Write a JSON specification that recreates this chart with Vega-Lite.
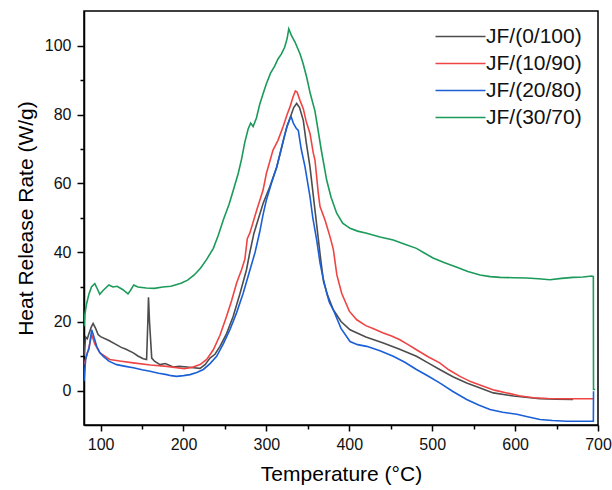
{
  "$schema": "https://vega.github.io/schema/vega-lite/v6.json",
  "width": 514,
  "height": 414,
  "autosize": {"type": "none"},
  "padding": {"left": 84, "top": 11, "right": 14, "bottom": 65},
  "background": "white",
  "config": {
    "font": "Liberation Sans",
    "view": {"stroke": "black", "strokeWidth": 1.5},
    "axis": {
      "domainColor": "black", "domainWidth": 1.5, "tickColor": "black", "tickWidth": 1.5,
      "labelFont": "Liberation Sans", "labelFontSize": 16, "labelColor": "#111",
      "titleFont": "Liberation Sans", "titleFontSize": 21, "titleFontWeight": "normal", "titleColor": "black",
      "grid": false
    }
  },
  "datasets": {
    "hrr": [
      {"s":"JF/(0/100)","T":80,"v":10},{"s":"JF/(0/100)","T":82,"v":15.5},{"s":"JF/(0/100)","T":84,"v":15},{"s":"JF/(0/100)","T":86,"v":16.5},{"s":"JF/(0/100)","T":89,"v":18.5},{"s":"JF/(0/100)","T":91,"v":19.4},{"s":"JF/(0/100)","T":94,"v":18},{"s":"JF/(0/100)","T":97,"v":16.2},{"s":"JF/(0/100)","T":100,"v":15.6},{"s":"JF/(0/100)","T":110,"v":14.5},{"s":"JF/(0/100)","T":119,"v":13.3},{"s":"JF/(0/100)","T":125,"v":12.5},{"s":"JF/(0/100)","T":130,"v":12},{"s":"JF/(0/100)","T":139.5,"v":10.9},{"s":"JF/(0/100)","T":145,"v":10},{"s":"JF/(0/100)","T":151.5,"v":9.2},{"s":"JF/(0/100)","T":155.5,"v":9},{"s":"JF/(0/100)","T":157,"v":20},{"s":"JF/(0/100)","T":157.8,"v":27},{"s":"JF/(0/100)","T":159,"v":20},{"s":"JF/(0/100)","T":161.7,"v":9.4},{"s":"JF/(0/100)","T":165,"v":8.5},{"s":"JF/(0/100)","T":171.7,"v":7.5},{"s":"JF/(0/100)","T":178,"v":7.8},{"s":"JF/(0/100)","T":187.7,"v":6.8},{"s":"JF/(0/100)","T":195,"v":7},{"s":"JF/(0/100)","T":204,"v":6.8},{"s":"JF/(0/100)","T":212,"v":6.6},{"s":"JF/(0/100)","T":220,"v":6.4},{"s":"JF/(0/100)","T":226,"v":7.5},{"s":"JF/(0/100)","T":232,"v":9.4},{"s":"JF/(0/100)","T":238,"v":10.5},{"s":"JF/(0/100)","T":244,"v":12.8},{"s":"JF/(0/100)","T":252,"v":16.5},{"s":"JF/(0/100)","T":260,"v":21.5},{"s":"JF/(0/100)","T":268,"v":28},{"s":"JF/(0/100)","T":276,"v":35},{"s":"JF/(0/100)","T":280,"v":40},{"s":"JF/(0/100)","T":285,"v":45.6},{"s":"JF/(0/100)","T":296,"v":54.2},{"s":"JF/(0/100)","T":304,"v":59},{"s":"JF/(0/100)","T":312.5,"v":64.8},{"s":"JF/(0/100)","T":318,"v":70},{"s":"JF/(0/100)","T":324.5,"v":76.4},{"s":"JF/(0/100)","T":330,"v":80},{"s":"JF/(0/100)","T":333,"v":82},{"s":"JF/(0/100)","T":336.5,"v":83.2},{"s":"JF/(0/100)","T":340,"v":82},{"s":"JF/(0/100)","T":344.5,"v":78.3},{"s":"JF/(0/100)","T":348,"v":72},{"s":"JF/(0/100)","T":352.6,"v":64.8},{"s":"JF/(0/100)","T":358.6,"v":52.3},{"s":"JF/(0/100)","T":362.6,"v":44},{"s":"JF/(0/100)","T":365.5,"v":38},{"s":"JF/(0/100)","T":369,"v":31.5},{"s":"JF/(0/100)","T":374,"v":27.5},{"s":"JF/(0/100)","T":380.7,"v":23.4},{"s":"JF/(0/100)","T":390,"v":20},{"s":"JF/(0/100)","T":400.9,"v":17.6},{"s":"JF/(0/100)","T":420,"v":15.5},{"s":"JF/(0/100)","T":441,"v":13.8},{"s":"JF/(0/100)","T":460,"v":12},{"s":"JF/(0/100)","T":481,"v":9.9},{"s":"JF/(0/100)","T":495,"v":8},{"s":"JF/(0/100)","T":509,"v":6.1},{"s":"JF/(0/100)","T":525,"v":4},{"s":"JF/(0/100)","T":541.6,"v":2.2},{"s":"JF/(0/100)","T":557,"v":0.8},{"s":"JF/(0/100)","T":573.7,"v":-0.7},{"s":"JF/(0/100)","T":598,"v":-1.6},{"s":"JF/(0/100)","T":630,"v":-2.4},{"s":"JF/(0/100)","T":650,"v":-2.5},{"s":"JF/(0/100)","T":670,"v":-2.6},

      {"s":"JF/(10/90)","T":80,"v":7.5},{"s":"JF/(10/90)","T":83,"v":10},{"s":"JF/(10/90)","T":86,"v":12.5},{"s":"JF/(10/90)","T":89.3,"v":16.2},{"s":"JF/(10/90)","T":93,"v":13.5},{"s":"JF/(10/90)","T":99.3,"v":10.9},{"s":"JF/(10/90)","T":111,"v":9},{"s":"JF/(10/90)","T":125,"v":8.5},{"s":"JF/(10/90)","T":139.5,"v":8},{"s":"JF/(10/90)","T":160,"v":7.4},{"s":"JF/(10/90)","T":180,"v":7},{"s":"JF/(10/90)","T":201,"v":6.3},{"s":"JF/(10/90)","T":210,"v":6.7},{"s":"JF/(10/90)","T":220,"v":7.5},{"s":"JF/(10/90)","T":228,"v":9},{"s":"JF/(10/90)","T":236,"v":11.8},{"s":"JF/(10/90)","T":244,"v":16},{"s":"JF/(10/90)","T":252,"v":21.5},{"s":"JF/(10/90)","T":258,"v":26},{"s":"JF/(10/90)","T":264,"v":31.1},{"s":"JF/(10/90)","T":270,"v":35},{"s":"JF/(10/90)","T":274,"v":38},{"s":"JF/(10/90)","T":277,"v":44},{"s":"JF/(10/90)","T":280,"v":45.6},{"s":"JF/(10/90)","T":288,"v":52},{"s":"JF/(10/90)","T":296,"v":58.1},{"s":"JF/(10/90)","T":300,"v":62.9},{"s":"JF/(10/90)","T":308,"v":69.7},{"s":"JF/(10/90)","T":314,"v":72.5},{"s":"JF/(10/90)","T":320,"v":76.4},{"s":"JF/(10/90)","T":325,"v":80},{"s":"JF/(10/90)","T":328.5,"v":82.2},{"s":"JF/(10/90)","T":332,"v":85},{"s":"JF/(10/90)","T":335,"v":86.8},{"s":"JF/(10/90)","T":337,"v":86.5},{"s":"JF/(10/90)","T":340.5,"v":84.1},{"s":"JF/(10/90)","T":344.5,"v":81.7},{"s":"JF/(10/90)","T":348,"v":78},{"s":"JF/(10/90)","T":352.6,"v":74.5},{"s":"JF/(10/90)","T":356.6,"v":68.8},{"s":"JF/(10/90)","T":358.6,"v":66.8},{"s":"JF/(10/90)","T":362.6,"v":57.2},{"s":"JF/(10/90)","T":364.7,"v":53.3},{"s":"JF/(10/90)","T":370.7,"v":49.4},{"s":"JF/(10/90)","T":376.7,"v":44.6},{"s":"JF/(10/90)","T":380.7,"v":41},{"s":"JF/(10/90)","T":385,"v":33.5},{"s":"JF/(10/90)","T":390.8,"v":28.2},{"s":"JF/(10/90)","T":400,"v":23},{"s":"JF/(10/90)","T":409,"v":20.5},{"s":"JF/(10/90)","T":420,"v":18.8},{"s":"JF/(10/90)","T":430,"v":17.8},{"s":"JF/(10/90)","T":441,"v":16.7},{"s":"JF/(10/90)","T":451,"v":15.8},{"s":"JF/(10/90)","T":461,"v":14.7},{"s":"JF/(10/90)","T":471,"v":13.3},{"s":"JF/(10/90)","T":481,"v":11.8},{"s":"JF/(10/90)","T":495,"v":9.8},{"s":"JF/(10/90)","T":509,"v":8},{"s":"JF/(10/90)","T":520,"v":6},{"s":"JF/(10/90)","T":533.5,"v":4.1},{"s":"JF/(10/90)","T":547,"v":2.5},{"s":"JF/(10/90)","T":561.7,"v":1.2},{"s":"JF/(10/90)","T":575,"v":0.1},{"s":"JF/(10/90)","T":590,"v":-0.7},{"s":"JF/(10/90)","T":605,"v":-1.5},{"s":"JF/(10/90)","T":622,"v":-2.1},{"s":"JF/(10/90)","T":640,"v":-2.3},{"s":"JF/(10/90)","T":660,"v":-2.4},{"s":"JF/(10/90)","T":680,"v":-2.4},{"s":"JF/(10/90)","T":694.4,"v":-2.4},

      {"s":"JF/(20/80)","T":80,"v":2.7},{"s":"JF/(20/80)","T":82,"v":9},{"s":"JF/(20/80)","T":84,"v":10.9},{"s":"JF/(20/80)","T":86,"v":12},{"s":"JF/(20/80)","T":88,"v":15.5},{"s":"JF/(20/80)","T":89.3,"v":17.6},{"s":"JF/(20/80)","T":92,"v":15.5},{"s":"JF/(20/80)","T":95.3,"v":12.8},{"s":"JF/(20/80)","T":99,"v":11},{"s":"JF/(20/80)","T":103.3,"v":9.9},{"s":"JF/(20/80)","T":110,"v":8.5},{"s":"JF/(20/80)","T":119.4,"v":7.5},{"s":"JF/(20/80)","T":130,"v":7},{"s":"JF/(20/80)","T":139.5,"v":6.6},{"s":"JF/(20/80)","T":150,"v":6},{"s":"JF/(20/80)","T":159.6,"v":5.6},{"s":"JF/(20/80)","T":170,"v":5},{"s":"JF/(20/80)","T":179.8,"v":4.6},{"s":"JF/(20/80)","T":185,"v":4.3},{"s":"JF/(20/80)","T":191.8,"v":4.1},{"s":"JF/(20/80)","T":200,"v":4.3},{"s":"JF/(20/80)","T":207.9,"v":4.6},{"s":"JF/(20/80)","T":216,"v":5.2},{"s":"JF/(20/80)","T":224,"v":6.1},{"s":"JF/(20/80)","T":232,"v":7.8},{"s":"JF/(20/80)","T":240,"v":9.9},{"s":"JF/(20/80)","T":248,"v":13.5},{"s":"JF/(20/80)","T":256,"v":17.6},{"s":"JF/(20/80)","T":264,"v":22.5},{"s":"JF/(20/80)","T":272,"v":28.2},{"s":"JF/(20/80)","T":279,"v":34},{"s":"JF/(20/80)","T":286.3,"v":40},{"s":"JF/(20/80)","T":292,"v":46},{"s":"JF/(20/80)","T":296,"v":51},{"s":"JF/(20/80)","T":300,"v":55.2},{"s":"JF/(20/80)","T":306,"v":60},{"s":"JF/(20/80)","T":312.5,"v":64.8},{"s":"JF/(20/80)","T":320.4,"v":72.5},{"s":"JF/(20/80)","T":325,"v":76.5},{"s":"JF/(20/80)","T":328.5,"v":78.8},{"s":"JF/(20/80)","T":330,"v":79.3},{"s":"JF/(20/80)","T":332.5,"v":77.5},{"s":"JF/(20/80)","T":336,"v":76},{"s":"JF/(20/80)","T":338.5,"v":75.4},{"s":"JF/(20/80)","T":342,"v":70},{"s":"JF/(20/80)","T":346.6,"v":64.8},{"s":"JF/(20/80)","T":352.6,"v":56.2},{"s":"JF/(20/80)","T":356,"v":50},{"s":"JF/(20/80)","T":360.7,"v":43.6},{"s":"JF/(20/80)","T":364.7,"v":37},{"s":"JF/(20/80)","T":368,"v":33},{"s":"JF/(20/80)","T":372.8,"v":28.2},{"s":"JF/(20/80)","T":376,"v":25.5},{"s":"JF/(20/80)","T":380.7,"v":23.4},{"s":"JF/(20/80)","T":390,"v":18},{"s":"JF/(20/80)","T":400.9,"v":14.2},{"s":"JF/(20/80)","T":410,"v":13.3},{"s":"JF/(20/80)","T":421,"v":12.8},{"s":"JF/(20/80)","T":437,"v":11.5},{"s":"JF/(20/80)","T":453,"v":9.9},{"s":"JF/(20/80)","T":467,"v":8.2},{"s":"JF/(20/80)","T":481,"v":6.1},{"s":"JF/(20/80)","T":495,"v":4.2},{"s":"JF/(20/80)","T":509,"v":2.2},{"s":"JF/(20/80)","T":525,"v":-0.3},{"s":"JF/(20/80)","T":541.6,"v":-2.6},{"s":"JF/(20/80)","T":556,"v":-4.2},{"s":"JF/(20/80)","T":569.7,"v":-5.5},{"s":"JF/(20/80)","T":585,"v":-6.3},{"s":"JF/(20/80)","T":602,"v":-6.9},{"s":"JF/(20/80)","T":615,"v":-7.6},{"s":"JF/(20/80)","T":630,"v":-8.4},{"s":"JF/(20/80)","T":645,"v":-8.7},{"s":"JF/(20/80)","T":662,"v":-8.9},{"s":"JF/(20/80)","T":678,"v":-8.9},{"s":"JF/(20/80)","T":694.4,"v":-8.9},{"s":"JF/(20/80)","T":694.6,"v":-0.2},

      {"s":"JF/(30/70)","T":80,"v":18.6},{"s":"JF/(30/70)","T":81,"v":22},{"s":"JF/(30/70)","T":83,"v":25},{"s":"JF/(30/70)","T":86,"v":28},{"s":"JF/(30/70)","T":89,"v":30},{"s":"JF/(30/70)","T":93,"v":31},{"s":"JF/(30/70)","T":96,"v":29.5},{"s":"JF/(30/70)","T":99,"v":27.9},{"s":"JF/(30/70)","T":103,"v":29},{"s":"JF/(30/70)","T":110,"v":30.6},{"s":"JF/(30/70)","T":115,"v":30},{"s":"JF/(30/70)","T":120,"v":30.2},{"s":"JF/(30/70)","T":127,"v":29.2},{"s":"JF/(30/70)","T":133,"v":28},{"s":"JF/(30/70)","T":136,"v":29},{"s":"JF/(30/70)","T":140,"v":30.6},{"s":"JF/(30/70)","T":145,"v":30},{"s":"JF/(30/70)","T":155,"v":29.7},{"s":"JF/(30/70)","T":165,"v":29.6},{"s":"JF/(30/70)","T":175,"v":30},{"s":"JF/(30/70)","T":185,"v":30.2},{"s":"JF/(30/70)","T":197,"v":31.1},{"s":"JF/(30/70)","T":205,"v":32},{"s":"JF/(30/70)","T":213,"v":33.5},{"s":"JF/(30/70)","T":220.7,"v":35.5},{"s":"JF/(30/70)","T":228,"v":38},{"s":"JF/(30/70)","T":236,"v":41.2},{"s":"JF/(30/70)","T":242,"v":45},{"s":"JF/(30/70)","T":248,"v":49.4},{"s":"JF/(30/70)","T":255,"v":54},{"s":"JF/(30/70)","T":260,"v":58},{"s":"JF/(30/70)","T":266,"v":62.9},{"s":"JF/(30/70)","T":270,"v":67},{"s":"JF/(30/70)","T":274,"v":72},{"s":"JF/(30/70)","T":278,"v":75.8},{"s":"JF/(30/70)","T":281,"v":77.5},{"s":"JF/(30/70)","T":284,"v":76.5},{"s":"JF/(30/70)","T":288,"v":79},{"s":"JF/(30/70)","T":292,"v":83},{"s":"JF/(30/70)","T":296,"v":86},{"s":"JF/(30/70)","T":300,"v":88.9},{"s":"JF/(30/70)","T":305,"v":92},{"s":"JF/(30/70)","T":310,"v":94},{"s":"JF/(30/70)","T":314,"v":96.1},{"s":"JF/(30/70)","T":318,"v":97.5},{"s":"JF/(30/70)","T":322,"v":99.5},{"s":"JF/(30/70)","T":325,"v":102},{"s":"JF/(30/70)","T":327,"v":104.8},{"s":"JF/(30/70)","T":330,"v":103},{"s":"JF/(30/70)","T":334.5,"v":101},{"s":"JF/(30/70)","T":340.5,"v":97.6},{"s":"JF/(30/70)","T":344,"v":95},{"s":"JF/(30/70)","T":348.6,"v":90.8},{"s":"JF/(30/70)","T":353,"v":86},{"s":"JF/(30/70)","T":358.6,"v":81},{"s":"JF/(30/70)","T":362.6,"v":75.1},{"s":"JF/(30/70)","T":366,"v":70},{"s":"JF/(30/70)","T":372.7,"v":61},{"s":"JF/(30/70)","T":378,"v":56},{"s":"JF/(30/70)","T":384.8,"v":51.4},{"s":"JF/(30/70)","T":392,"v":48.5},{"s":"JF/(30/70)","T":400.9,"v":47},{"s":"JF/(30/70)","T":410,"v":46.2},{"s":"JF/(30/70)","T":421,"v":45.6},{"s":"JF/(30/70)","T":437,"v":44.5},{"s":"JF/(30/70)","T":453,"v":43.6},{"s":"JF/(30/70)","T":467,"v":42.4},{"s":"JF/(30/70)","T":481,"v":41.2},{"s":"JF/(30/70)","T":491,"v":39.8},{"s":"JF/(30/70)","T":501,"v":38.4},{"s":"JF/(30/70)","T":515,"v":37},{"s":"JF/(30/70)","T":529,"v":35.8},{"s":"JF/(30/70)","T":543,"v":34.5},{"s":"JF/(30/70)","T":557.7,"v":33.5},{"s":"JF/(30/70)","T":570,"v":33},{"s":"JF/(30/70)","T":582,"v":32.8},{"s":"JF/(30/70)","T":598,"v":32.7},{"s":"JF/(30/70)","T":614,"v":32.6},{"s":"JF/(30/70)","T":628,"v":32.4},{"s":"JF/(30/70)","T":642,"v":32.1},{"s":"JF/(30/70)","T":656,"v":32.5},{"s":"JF/(30/70)","T":670,"v":32.8},{"s":"JF/(30/70)","T":682,"v":32.9},{"s":"JF/(30/70)","T":692.4,"v":33.2},{"s":"JF/(30/70)","T":694.4,"v":33},{"s":"JF/(30/70)","T":694.6,"v":0.3},{"s":"JF/(30/70)","T":696.5,"v":0.3}
    ]
  },
  "data": {"name": "hrr"},
  "layer": [
    {
      "mark": {"type": "line", "clip": true},
      "encoding": {
        "x": {"field": "T", "type": "quantitative", "scale": {"domain": [80, 700], "nice": false, "zero": false},
          "axis": {"orient": "bottom", "title": "Temperature (°C)", "values": [100, 200, 300, 400, 500, 600, 700], "tickSize": 6, "labelPadding": 5, "titlePadding": 11, "labelFlush": false}},
        "y": {"field": "v", "type": "quantitative", "scale": {"domain": [-10, 110], "nice": false, "zero": false},
          "axis": {"orient": "left", "title": "Heat Release Rate (W/g)", "values": [0, 20, 40, 60, 80, 100], "tickSize": 7, "labelPadding": 6, "titlePadding": 8, "labelFlush": false}},
        "color": {"field": "s", "type": "nominal",
          "scale": {"domain": ["JF/(0/100)", "JF/(10/90)", "JF/(20/80)", "JF/(30/70)"], "range": ["#4d4d4d", "#ef4444", "#1a5fd6", "#1b9a5a"]},
          "legend": {"title": null, "orient": "none", "legendX": 366, "legendY": 15, "symbolType": "M-5,0H5", "symbolSize": 100, "symbolStrokeWidth": 2, "symbolFillColor": "transparent", "labelFontSize": 21, "labelFont": "Liberation Sans", "labelColor": "#111", "labelOffset": 15, "rowPadding": 5, "padding": 0}},
        "strokeWidth": {"field": "s", "type": "nominal", "scale": {"domain": ["JF/(0/100)", "JF/(10/90)", "JF/(20/80)", "JF/(30/70)"], "range": [1.6, 1.6, 2.2, 1.6]}, "legend": null}
      }
    },
    {
      "mark": {"type": "point", "opacity": 0},
      "encoding": {
        "x": {"field": "T", "type": "quantitative",
          "axis": {"orient": "bottom", "title": null, "labels": false, "domain": false, "values": [150, 250, 350, 450, 550, 650], "tickSize": 4}},
        "y": {"field": "v", "type": "quantitative",
          "axis": {"orient": "left", "title": null, "labels": false, "domain": false, "values": [10, 30, 50, 70, 90], "tickSize": 4}}
      }
    }
  ],
  "resolve": {"axis": {"x": "independent", "y": "independent"}}
}
